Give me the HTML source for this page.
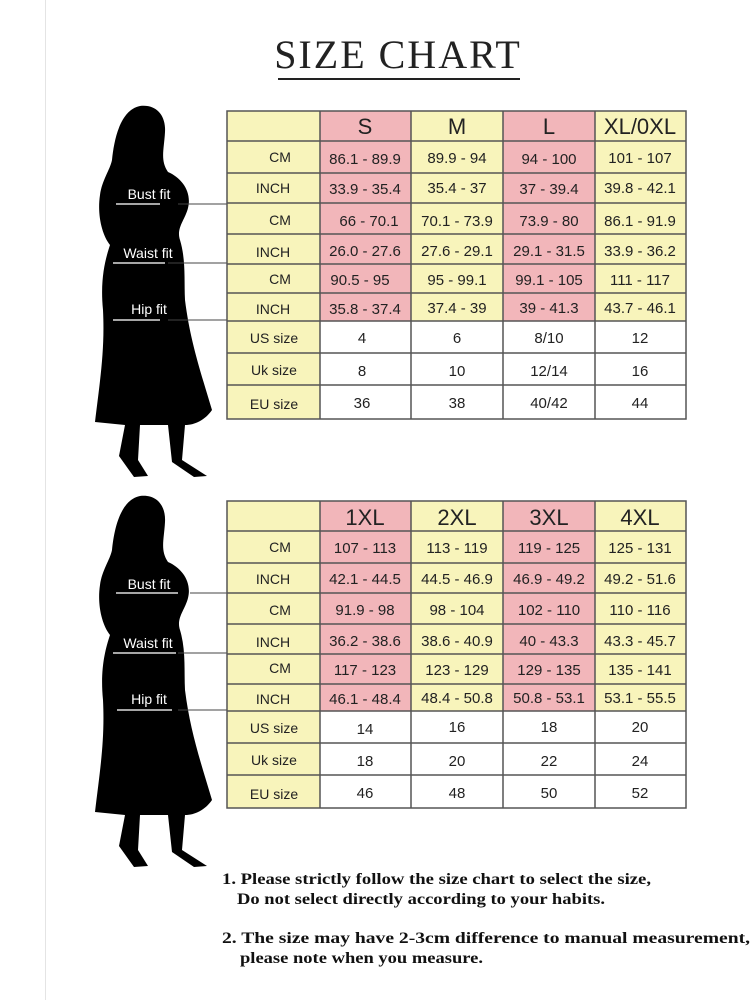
<!DOCTYPE html>
<html><head><meta charset="utf-8"><style>
html,body{margin:0;padding:0;background:#fff}
svg{display:block}
.h{font:22px "Liberation Sans",sans-serif;fill:#222;text-anchor:middle}
.v{font:15px "Liberation Sans",sans-serif;fill:#222;text-anchor:middle}
.l{font:14px "Liberation Sans",sans-serif;fill:#222;text-anchor:middle}
.f{font:14px "Liberation Sans",sans-serif;fill:#fff;text-anchor:middle}
.n{font:bold 16px "Liberation Serif",serif;fill:#111}
</style></head><body>
<svg width="750" height="1000" viewBox="0 0 750 1000">
<rect width="750" height="1000" fill="#fff"/>
<line x1="45.5" y1="0" x2="45.5" y2="1000" stroke="#e4e4e4"/>
<text x="398" y="68" text-anchor="middle" style="font:40px 'Liberation Serif',serif;fill:#222;letter-spacing:2px">SIZE CHART</text>
<line x1="278" y1="79" x2="520" y2="79" stroke="#222" stroke-width="2"/>

<defs>
<path id="sil" d="M140,496 C156,494 166,505 165,522 C164,540 160,550 168,562 C182,568 192,582 188,598 C185,610 176,618 180,630 C186,650 184,670 185,690 C190,730 200,760 212,800 C205,810 195,815 185,815 L182,850 L207,866 L194,867 L172,852 L168,815 L140,815 L138,850 L148,866 L134,867 L119,846 L125,815 L95,812 C100,770 105,740 103,700 C100,670 105,650 110,635 C102,625 97,605 100,585 C102,570 110,560 112,550 C114,530 120,500 140,496 Z"/>
</defs>

<!-- TOP -->
<g>
<use href="#sil" transform="translate(0,-390)"/>
<text class="f" x="149" y="199">Bust fit</text>
<line x1="116" y1="204" x2="160" y2="204" stroke="#ddd" stroke-width="1.5"/>
<line x1="178" y1="204" x2="227" y2="204" stroke="#444"/>
<text class="f" x="148" y="258">Waist fit</text>
<line x1="113" y1="263" x2="165" y2="263" stroke="#ddd" stroke-width="1.5"/>
<line x1="168" y1="263" x2="227" y2="263" stroke="#444"/>
<text class="f" x="149" y="314">Hip fit</text>
<line x1="113" y1="320" x2="160" y2="320" stroke="#ddd" stroke-width="1.5"/>
<line x1="168" y1="320" x2="227" y2="320" stroke="#444"/>

<rect x="227" y="111" width="93" height="308" fill="#f8f4bb"/>
<rect x="320" y="111" width="91" height="210" fill="#f2b6ba"/>
<rect x="411" y="111" width="92" height="210" fill="#f8f4bb"/>
<rect x="503" y="111" width="92" height="210" fill="#f2b6ba"/>
<rect x="595" y="111" width="91" height="210" fill="#f8f4bb"/>
<g stroke="#555" stroke-width="1.5" fill="none">
<rect x="227" y="111" width="459" height="308"/>
<path d="M227,141H686M227,173H686M227,203H686M227,234H686M227,264H686M227,293H686M227,321H686M227,353H686M227,385H686M320,111V419M411,111V419M503,111V419M595,111V419"/>
</g>
<text class="h" x="365" y="134">S</text><text class="h" x="457" y="134">M</text><text class="h" x="549" y="134">L</text><text class="h" x="640" y="134">XL/0XL</text>
<text class="l" x="280" y="162">CM</text><text class="v" x="365" y="164">86.1 - 89.9</text><text class="v" x="457" y="163">89.9 - 94</text><text class="v" x="549" y="164">94 - 100</text><text class="v" x="640" y="163">101 - 107</text>
<text class="l" x="273" y="193">INCH</text><text class="v" x="365" y="194">33.9 - 35.4</text><text class="v" x="457" y="193">35.4 - 37</text><text class="v" x="549" y="194">37 - 39.4</text><text class="v" x="640" y="193">39.8 - 42.1</text>
<text class="l" x="280" y="225">CM</text><text class="v" x="369" y="226">66 - 70.1</text><text class="v" x="457" y="226">70.1 - 73.9</text><text class="v" x="549" y="226">73.9 - 80</text><text class="v" x="640" y="226">86.1 - 91.9</text>
<text class="l" x="273" y="257">INCH</text><text class="v" x="365" y="256">26.0 - 27.6</text><text class="v" x="457" y="256">27.6 - 29.1</text><text class="v" x="549" y="256">29.1 - 31.5</text><text class="v" x="640" y="256">33.9 - 36.2</text>
<text class="l" x="280" y="284">CM</text><text class="v" x="360" y="285">90.5 - 95</text><text class="v" x="457" y="285">95 - 99.1</text><text class="v" x="549" y="285">99.1 - 105</text><text class="v" x="640" y="285">111 - 117</text>
<text class="l" x="273" y="314">INCH</text><text class="v" x="365" y="314">35.8 - 37.4</text><text class="v" x="457" y="313">37.4 - 39</text><text class="v" x="549" y="313">39 - 41.3</text><text class="v" x="640" y="313">43.7 - 46.1</text>
<text class="l" x="274" y="343">US size</text><text class="v" x="362" y="343">4</text><text class="v" x="457" y="343">6</text><text class="v" x="549" y="343">8/10</text><text class="v" x="640" y="343">12</text>
<text class="l" x="274" y="375">Uk size</text><text class="v" x="362" y="376">8</text><text class="v" x="457" y="376">10</text><text class="v" x="549" y="376">12/14</text><text class="v" x="640" y="376">16</text>
<text class="l" x="274" y="409">EU size</text><text class="v" x="362" y="408">36</text><text class="v" x="457" y="408">38</text><text class="v" x="549" y="408">40/42</text><text class="v" x="640" y="408">44</text>
</g>

<!-- BOTTOM -->
<g>
<use href="#sil"/>
<text class="f" x="149" y="589">Bust fit</text>
<line x1="116" y1="593" x2="178" y2="593" stroke="#ddd" stroke-width="1.5"/>
<line x1="190" y1="593" x2="227" y2="593" stroke="#444"/>
<text class="f" x="148" y="648">Waist fit</text>
<line x1="113" y1="653" x2="176" y2="653" stroke="#ddd" stroke-width="1.5"/>
<line x1="178" y1="653" x2="227" y2="653" stroke="#444"/>
<text class="f" x="149" y="704">Hip fit</text>
<line x1="117" y1="710" x2="172" y2="710" stroke="#ddd" stroke-width="1.5"/>
<line x1="178" y1="710" x2="227" y2="710" stroke="#444"/>

<rect x="227" y="501" width="93" height="307" fill="#f8f4bb"/>
<rect x="320" y="501" width="91" height="210" fill="#f2b6ba"/>
<rect x="411" y="501" width="92" height="210" fill="#f8f4bb"/>
<rect x="503" y="501" width="92" height="210" fill="#f2b6ba"/>
<rect x="595" y="501" width="91" height="210" fill="#f8f4bb"/>
<g stroke="#555" stroke-width="1.5" fill="none">
<rect x="227" y="501" width="459" height="307"/>
<path d="M227,531H686M227,563H686M227,593H686M227,624H686M227,654H686M227,684H686M227,711H686M227,743H686M227,775H686M320,501V808M411,501V808M503,501V808M595,501V808"/>
</g>
<text class="h" x="365" y="525">1XL</text><text class="h" x="457" y="525">2XL</text><text class="h" x="549" y="525">3XL</text><text class="h" x="640" y="525">4XL</text>
<text class="l" x="280" y="552">CM</text><text class="v" x="365" y="553">107 - 113</text><text class="v" x="457" y="553">113 - 119</text><text class="v" x="549" y="553">119 - 125</text><text class="v" x="640" y="553">125 - 131</text>
<text class="l" x="273" y="584">INCH</text><text class="v" x="365" y="584">42.1 - 44.5</text><text class="v" x="457" y="584">44.5 - 46.9</text><text class="v" x="549" y="584">46.9 - 49.2</text><text class="v" x="640" y="584">49.2 - 51.6</text>
<text class="l" x="280" y="615">CM</text><text class="v" x="365" y="615">91.9 - 98</text><text class="v" x="457" y="615">98 - 104</text><text class="v" x="549" y="615">102 - 110</text><text class="v" x="640" y="615">110 - 116</text>
<text class="l" x="273" y="647">INCH</text><text class="v" x="365" y="646">36.2 - 38.6</text><text class="v" x="457" y="646">38.6 - 40.9</text><text class="v" x="549" y="646">40 - 43.3</text><text class="v" x="640" y="646">43.3 - 45.7</text>
<text class="l" x="280" y="673">CM</text><text class="v" x="365" y="675">117 - 123</text><text class="v" x="457" y="675">123 - 129</text><text class="v" x="549" y="675">129 - 135</text><text class="v" x="640" y="675">135 - 141</text>
<text class="l" x="273" y="704">INCH</text><text class="v" x="365" y="704">46.1 - 48.4</text><text class="v" x="457" y="703">48.4 - 50.8</text><text class="v" x="549" y="703">50.8 - 53.1</text><text class="v" x="640" y="703">53.1 - 55.5</text>
<text class="l" x="274" y="733">US size</text><text class="v" x="365" y="734">14</text><text class="v" x="457" y="732">16</text><text class="v" x="549" y="732">18</text><text class="v" x="640" y="732">20</text>
<text class="l" x="274" y="765">Uk size</text><text class="v" x="365" y="766">18</text><text class="v" x="457" y="766">20</text><text class="v" x="549" y="766">22</text><text class="v" x="640" y="766">24</text>
<text class="l" x="274" y="799">EU size</text><text class="v" x="365" y="798">46</text><text class="v" x="457" y="798">48</text><text class="v" x="549" y="798">50</text><text class="v" x="640" y="798">52</text>
</g>

<text class="n" x="222" y="884" textLength="429" lengthAdjust="spacingAndGlyphs">1.  Please strictly follow the size chart to select the size,</text>
<text class="n" x="237" y="904" textLength="368" lengthAdjust="spacingAndGlyphs">Do not select directly according to your habits.</text>
<text class="n" x="222" y="943" textLength="528" lengthAdjust="spacingAndGlyphs">2.  The size may have 2-3cm difference  to manual measurement,</text>
<text class="n" x="240" y="963" textLength="243" lengthAdjust="spacingAndGlyphs">please note when you measure.</text>
</svg>
</body></html>
